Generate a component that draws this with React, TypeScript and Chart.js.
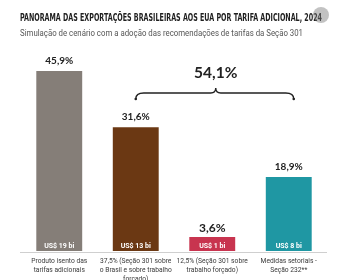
import React, { useEffect, useRef } from "react";
import { Chart, registerables } from "chart.js";

Chart.register(...registerables);

const TITLE = "PANORAMA DAS EXPORTAÇÕES BRASILEIRAS AOS EUA POR TARIFA ADICIONAL, 2024";
const SUBTITLE = "Simulação de cenário com a adoção das recomendações de tarifas da Seção 301";

const categories: string[][] = [
  ["Produto isento das", "tarifas adicionais"],
  ["37,5% (Seção 301 sobre", "o Brasil e sobre trabalho", "forçado)"],
  ["12,5% (Seção 301 sobre", "trabalho forçado)"],
  ["Medidas setoriais -", "Seção 232**"],
];
const shares = [45.9, 31.6, 3.6, 18.9];
const shareLabels = ["45,9%", "31,6%", "3,6%", "18,9%"];
const valueLabels = ["US$ 19 bi", "US$ 13 bi", "US$ 1 bi", "US$ 8 bi"];
const barColors = ["#857e78", "#6b3813", "#c8344f", "#1f97a3"];
const bracketTotal = "54,1%";

const overlay = {
  id: "overlay",
  afterDraw(chart: any) {
    const { ctx, chartArea } = chart;
    const x = chart.scales.x;
    const y = chart.scales.y;
    ctx.save();

    // Title & subtitle
    ctx.textAlign = "left";
    ctx.textBaseline = "alphabetic";
    ctx.fillStyle = "#1e1e1e";
    ctx.font = 'bold 10.5px "Liberation Sans Narrow", "DejaVu Sans Condensed", sans-serif';
    ctx.fillText(TITLE, 20, 21, 302);
    ctx.fillStyle = "#555555";
    ctx.font = '8.5px Roboto, sans-serif';
    ctx.fillText(SUBTITLE, 20, 35.5, 283);

    // Small grey badge at the end of the title
    ctx.beginPath();
    ctx.arc(321, 15, 8, 0, Math.PI * 2);
    ctx.fillStyle = "rgba(120,120,120,0.45)";
    ctx.fill();

    // Baseline
    ctx.strokeStyle = "#cfcfcf";
    ctx.lineWidth = 1;
    ctx.beginPath();
    ctx.moveTo(chartArea.left - 1, chartArea.bottom + 1.5);
    ctx.lineTo(chartArea.right, chartArea.bottom + 1.5);
    ctx.stroke();

    const meta = chart.getDatasetMeta(0);
    meta.data.forEach((bar: any, i: number) => {
      const cx = bar.x;
      // share label above bar
      ctx.textAlign = "center";
      ctx.fillStyle = "#222222";
      ctx.font = i === 2 ? 'bold 12px Lato, sans-serif' : 'bold 10px Lato, sans-serif';
      ctx.fillText(shareLabels[i], cx, bar.y - (i === 2 ? 5 : 7));
      // value inside bar
      ctx.fillStyle = "#ffffff";
      ctx.font = 'bold 7px Roboto, sans-serif';
      ctx.fillText(valueLabels[i], cx, y.getPixelForValue(0) - 3);
      // category label
      ctx.fillStyle = "#3a3a3a";
      ctx.font = '6.7px Roboto, sans-serif';
      categories[i].forEach((line, j) => {
        ctx.fillText(line, cx, chartArea.bottom + 11.5 + j * 9, 74);
      });
    });

    // Curly bracket grouping the tariffed bars
    const x0 = x.getPixelForValue(1);
    const x1 = x.getPixelForValue(3) + 5;
    const mid = (x0 + x1) / 2 + 1;
    const yl = 93;
    ctx.strokeStyle = "#222222";
    ctx.lineWidth = 1.4;
    ctx.beginPath();
    ctx.moveTo(x0, yl + 6);
    ctx.quadraticCurveTo(x0, yl, x0 + 8, yl);
    ctx.lineTo(mid - 5, yl);
    ctx.quadraticCurveTo(mid, yl, mid, yl - 5);
    ctx.quadraticCurveTo(mid, yl, mid + 5, yl);
    ctx.lineTo(x1 - 8, yl);
    ctx.quadraticCurveTo(x1, yl, x1, yl + 6);
    ctx.stroke();
    ctx.fillStyle = "#222222";
    ctx.beginPath();
    ctx.arc(x0, yl + 6, 1.3, 0, Math.PI * 2);
    ctx.arc(x1, yl + 6, 1.3, 0, Math.PI * 2);
    ctx.fill();

    ctx.textAlign = "center";
    ctx.font = 'bold 15.5px Lato, sans-serif';
    ctx.fillText(bracketTotal, mid, 78);

    ctx.restore();
  },
};

export default function App() {
  const ref = useRef<HTMLCanvasElement | null>(null);

  useEffect(() => {
    if (!ref.current) return;
    const chart = new Chart(ref.current, {
      type: "bar",
      data: {
        labels: categories.map((c) => c.join(" ")),
        datasets: [
          {
            data: shares,
            backgroundColor: barColors,
            borderWidth: 0,
            barPercentage: 0.6,
            categoryPercentage: 1,
          },
        ],
      },
      options: {
        responsive: false,
        animation: false,
        devicePixelRatio: 1,
        layout: { padding: { top: 55, bottom: 29, left: 21, right: 23 } },
        plugins: {
          legend: { display: false },
          tooltip: { enabled: false },
          title: { display: false },
        },
        scales: {
          x: { display: false },
          y: { display: false, min: 0, max: 50 },
        },
      },
      plugins: [overlay],
    });
    return () => chart.destroy();
  }, []);

  return (
    <div style={{ position: "fixed", left: 0, top: 0, width: 350, height: 280, background: "#ffffff" }}>
      <canvas ref={ref} width={350} height={280} />
    </div>
  );
}
